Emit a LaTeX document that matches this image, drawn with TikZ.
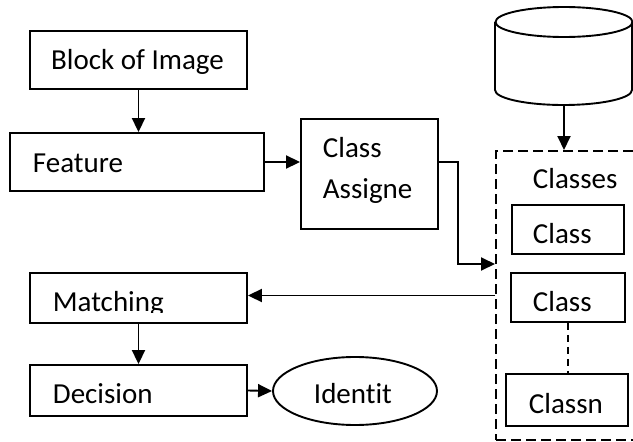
\documentclass[tikz,border=0pt]{standalone}
\usepackage{fontspec}
\setmainfont[RawFeature={-liga;-dlig;-clig}]{Carlito}
\usetikzlibrary{arrows.meta,calc,shapes.geometric}
\begin{document}
\begin{tikzpicture}[x=1pt,y=-1pt,
  line width=1.9pt,
  txt/.style={inner sep=0pt,anchor=base west,font=\fontsize{29}{34}\selectfont},
  boxnode/.style={draw,rectangle,inner sep=0pt},
  arr/.style={-{Triangle[length=14pt,width=13pt]}},
  grpline/.style={dash pattern=on 10pt off 5pt,line width=2pt},
  dotline/.style={dash pattern=on 7pt off 5pt,line width=1.3pt}]
\useasboundingbox (0,0) rectangle (633,442);

% boxes
\node[boxnode,minimum width=217pt,minimum height=58pt] (blk) at (138.5,60) {};
\node[boxnode,minimum width=254pt,minimum height=58pt] (feat) at (137,162) {};
\node[boxnode,minimum width=137pt,minimum height=110pt] (assign) at (369.5,174) {};
\node[boxnode,minimum width=112pt,minimum height=49pt] (cls1) at (568,229.5) {};
\node[boxnode,minimum width=114pt,minimum height=49pt] (cls2) at (568,297.5) {};
\node[boxnode,minimum width=122pt,minimum height=52pt] (clsn) at (567,400) {};
\node[boxnode,minimum width=217pt,minimum height=50pt] (match) at (138.5,298) {};
\node[boxnode,minimum width=217pt,minimum height=51pt] (dec) at (138.5,390.5) {};
\node[draw,ellipse,minimum width=164pt,minimum height=68pt,inner sep=0pt] (ident) at (355,391) {};

% group of classes
\node[draw,grpline,rectangle,inner sep=0pt,minimum width=149pt,minimum height=289pt] (grp) at (570.5,295.5) {};

% database cylinder
\draw (495,22) -- (495,90) arc[start angle=180,end angle=360,x radius=68.5pt,y radius=15pt] -- (632,22);
\draw (564,22) ellipse[x radius=68.5pt,y radius=15pt];
\coordinate (db) at (564,105);

% texts
\node[txt,anchor=base] (tblk) at (137.5,69) {Block of Image};
\node[txt] (tfeat) at (32,172) {Feature};
\node[txt] (tass1) at (322,157) {Class};
\node[txt] (tass2) at (322,198) {Assigne};
\node[txt] (tgrp) at (532,188) {Classes};
\node[txt] (tc1) at (532,243) {Class};
\node[txt] (tc2) at (532,311) {Class};
\node[txt] (tcn) at (528,413) {Classn};
\begin{scope}
  \clip (30,273) rectangle (247,312);
  \node[txt] (tmatch) at (52,311) {Matching};
\end{scope}
\node[txt] (tdec) at (52,403) {Decision};
\node[txt] (tid) at (313,403) {Identit};

% connectors
\draw[arr] (blk.south) -- (feat.north -| blk.south);
\draw[arr] (feat.east) -- (feat.east -| assign.west);
\draw[arr] ([yshift=12pt]assign.east) -- ++(19,0) |- ([yshift=31.5pt]grp.west);
\draw[arr] (db) -- (db |- grp.north);
\draw[arr] (grp.west) -- (grp.west -| match.east);
\draw[arr] (match.south) -- (match.south |- dec.north);
\draw[arr] (dec.east) -- (ident.west);
\draw[dotline] (cls2.south) -- (cls2.south |- clsn.north);
\end{tikzpicture}
\end{document}
